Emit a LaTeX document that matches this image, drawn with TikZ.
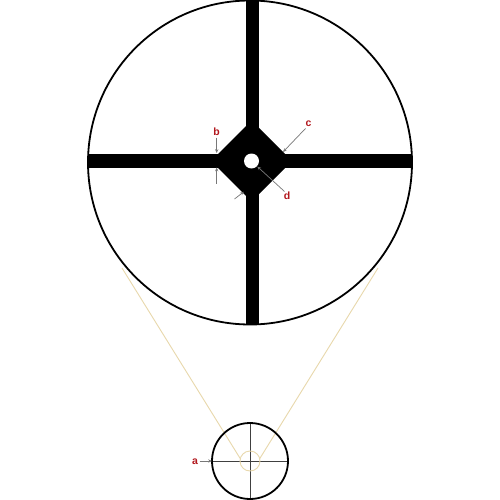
\documentclass[tikz,border=0pt]{standalone}
\usepackage{fontspec}
\setmainfont{Liberation Sans}
\usetikzlibrary{arrows.meta}
\definecolor{tanc}{RGB}{232,216,172}
\definecolor{lbl}{RGB}{178,24,30}
\definecolor{arr}{RGB}{120,120,120}
\tikzset{
  tanline/.style={draw=tanc, line width=0.9pt},
  ptr/.style={draw=arr, line width=0.7pt, -{Stealth[length=3.8pt,width=3.2pt]}},
  lab/.style={text=lbl, font=\fontsize{10.5}{11}\selectfont\bfseries, inner sep=0pt},
  rim/.style={draw=black, line width=1.8pt},
}
\begin{document}
\begin{tikzpicture}[x=1pt,y=-1pt]
\useasboundingbox (0,0) rectangle (500,500);
\fill[white] (0,0) rectangle (500,500);
% centres
\coordinate (C) at (250,162.5);
\coordinate (X) at (251.5,161);
\coordinate (S) at (250,461);
% cone lines
\coordinate (L1) at (122,268);
\coordinate (R1) at (378,268);
\coordinate (L2) at (240.5,459);
\coordinate (R2) at (259.5,459);
\draw[tanline] (L1) -- (L2);
\draw[tanline] (R1) -- (R2);
% big reticle
\begin{scope}
  \clip (C) circle (162);
  \fill[black] (245.5,0) rectangle (258.5,330);
  \fill[black] (80,154) rectangle (420,167.5);
  \fill[black, rounded corners=2pt] (211,161) -- (251.5,120.5) -- (292,161) -- (251.5,201.5) -- cycle;
\end{scope}
\fill[white] (X) circle (7.5);
\draw[rim] (C) circle (162);
% labels and pointers
\node[lab] (b) at (216.7,131.5) {b};
\node[lab] (c) at (308.5,124) {c};
\node[lab] (d) at (287,196) {d};
\coordinate (b1) at (216.7,137.5);
\coordinate (b2) at (216.7,153);
\coordinate (b3) at (216.7,183.5);
\coordinate (b4) at (216.7,167.5);
\draw[ptr] (b1) -- (b2);
\draw[ptr] (b3) -- (b4);
\coordinate (c1) at (305.5,128.5);
\coordinate (c2) at (283,152);
\draw[ptr] (c1) -- (c2);
\coordinate (d1) at (284.5,191.5);
\coordinate (d2) at (257.3,166.5);
\draw[ptr] (d1) -- (d2);
\coordinate (e1) at (234.5,199);
\coordinate (e2) at (243.8,191.8);
\draw[ptr] (e1) -- (e2);
% small reticle
\draw[draw=black!75, line width=0.6pt] (212,461) -- (288,461);
\draw[draw=black!75, line width=0.6pt] (250,423) -- (250,499);
\draw[draw=tanc, line width=0.9pt] (S) circle (10);
\draw[rim] (S) circle (38);
\node[lab] (a) at (195,461.5) {a};
\coordinate (a1) at (199.5,461);
\coordinate (a2) at (212,461);
\draw[ptr] (a1) -- (a2);
\end{tikzpicture}
\end{document}
